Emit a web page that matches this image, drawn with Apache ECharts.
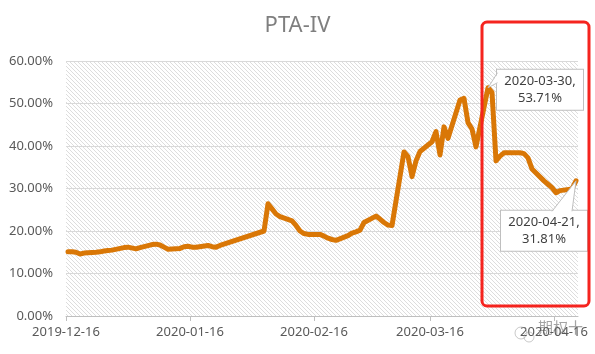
<!DOCTYPE html>
<html>
<head>
<meta charset="utf-8">
<script src="https://cdn.jsdelivr.net/npm/echarts@6/dist/echarts.min.js"></script>
<style>
html, body { margin: 0; padding: 0; background: #fff; }
#id-div-chart { width: 595px; height: 354px; }
</style>
</head>
<body>
<div id="id-div-chart"></div>
<script>
var log = console.log.bind(console)

var e = (selector) => document.querySelector(selector)

// 交易日
var dates = [
    '2019-12-16', '2019-12-17', '2019-12-18', '2019-12-19', '2019-12-20',
    '2019-12-23', '2019-12-24', '2019-12-25', '2019-12-26', '2019-12-27',
    '2019-12-30', '2019-12-31', '2020-01-02', '2020-01-03',
    '2020-01-06', '2020-01-07', '2020-01-08', '2020-01-09', '2020-01-10',
    '2020-01-13', '2020-01-14', '2020-01-15', '2020-01-16', '2020-01-17',
    '2020-01-20', '2020-01-21', '2020-01-22', '2020-01-23',
    '2020-02-03', '2020-02-04', '2020-02-05', '2020-02-06', '2020-02-07',
    '2020-02-10', '2020-02-11', '2020-02-12', '2020-02-13', '2020-02-14',
    '2020-02-17', '2020-02-18', '2020-02-19', '2020-02-20', '2020-02-21',
    '2020-02-24', '2020-02-25', '2020-02-26', '2020-02-27', '2020-02-28',
    '2020-03-02', '2020-03-03', '2020-03-04', '2020-03-05', '2020-03-06',
    '2020-03-09', '2020-03-10', '2020-03-11', '2020-03-12', '2020-03-13',
    '2020-03-16', '2020-03-17', '2020-03-18', '2020-03-19', '2020-03-20',
    '2020-03-23', '2020-03-24', '2020-03-25', '2020-03-26', '2020-03-27',
    '2020-03-30', '2020-03-31', '2020-04-01', '2020-04-02', '2020-04-03',
    '2020-04-07', '2020-04-08', '2020-04-09', '2020-04-10',
    '2020-04-13', '2020-04-14', '2020-04-15', '2020-04-16', '2020-04-17',
    '2020-04-20', '2020-04-21',
]

// IV，单位 %
var values = [
    15.1, 15.1, 15.0, 14.6, 14.8,
    15.0, 15.1, 15.3, 15.4, 15.5,
    16.1, 16.2, 15.8, 16.1,
    16.8, 16.9, 16.7, 16.2, 15.7,
    15.9, 16.3, 16.4, 16.2, 16.2,
    16.6, 16.3, 16.2, 16.6,
    20.0, 26.4, 25.2, 24.0, 23.4,
    22.4, 21.3, 20.0, 19.4, 19.2,
    19.2, 18.8, 18.3, 18.0, 17.8,
    18.9, 19.5, 19.8, 20.2, 22.0,
    23.5, 22.8, 22.0, 21.4, 21.3,
    38.6, 37.5, 32.8, 36.5, 38.7,
    41.0, 43.4, 37.9, 44.5, 41.8,
    50.8, 51.2, 45.5, 44.0, 39.8,
    53.71, 52.6, 36.5, 37.6, 38.4,
    38.4, 38.2, 37.2, 34.6,
    31.8, 31.0, 30.2, 29.0, 29.5,
    29.9, 31.81,
]

var xTickDates = ['2019-12-16', '2020-01-16', '2020-02-16', '2020-03-16', '2020-04-16']
var xStart = '2019-12-16'
var xEnd = '2020-04-22'

var yTicks = [0, 10, 20, 30, 40, 50, 60]

var calloutDates = ['2020-03-30', '2020-04-21']
// 标注框相对数据点的偏移
var calloutOffsets = [[52, 2], [-32, 50]]

var toTime = function(s, hour) {
    var p = s.split('-')
    return new Date(+p[0], +p[1] - 1, +p[2], hour || 0).getTime()
}

var pad = (n) => (n < 10 ? '0' : '') + n

var formatDate = function(t) {
    var d = new Date(t)
    return d.getFullYear() + '-' + pad(d.getMonth() + 1) + '-' + pad(d.getDate())
}

var hatchPattern = function() {
    var c = document.createElement('canvas')
    c.width = 4
    c.height = 4
    var ctx = c.getContext('2d')
    ctx.fillStyle = '#ffffff'
    ctx.fillRect(0, 0, 4, 4)
    ctx.strokeStyle = '#dddddd'
    ctx.lineWidth = 1
    ctx.beginPath()
    ctx.moveTo(-1, -1)
    ctx.lineTo(5, 5)
    ctx.moveTo(-1, 3)
    ctx.lineTo(1, 5)
    ctx.moveTo(3, -1)
    ctx.lineTo(5, 1)
    ctx.stroke()
    return {image: c, repeat: 'repeat'}
}

var seriesData = function() {
    var data = []
    for (var i = 0; i < dates.length; i++) {
        var d = dates[i]
        var item = {value: [toTime(d, 12), values[i]]}
        var k = calloutDates.indexOf(d)
        if (k >= 0) {
            item.label = {
                show: true,
                position: 'inside',
                offset: calloutOffsets[k],
                formatter: d + ',\n' + values[i].toFixed(2) + '%',
            }
        }
        data.push(item)
    }
    return data
}

var font = '"Noto Sans", "Noto Sans CJK SC", sans-serif'

var tickTimes = xTickDates.map((d) => toTime(d))

var option = {
    animation: false,
    title: {
        text: 'PTA-IV',
        left: 'center',
        top: 10,
        textStyle: {
            fontFamily: font,
            fontSize: 22,
            fontWeight: 'normal',
            color: '#7f7f7f',
        },
    },
    grid: {
        left: 66,
        right: 17,
        top: 61,
        bottom: 38,
        show: true,
        borderWidth: 0,
        backgroundColor: hatchPattern(),
    },
    xAxis: {
        type: 'value',
        min: toTime(xStart),
        max: toTime(xEnd),
        axisLine: {lineStyle: {color: '#bfbfbf', width: 1}},
        axisTick: {
            show: true,
            length: 5,
            lineStyle: {color: '#bfbfbf'},
            customValues: tickTimes,
        },
        axisLabel: {
            customValues: tickTimes,
            formatter: formatDate,
            fontFamily: font,
            fontSize: 13,
            color: '#595959',
            margin: 10,
        },
        splitLine: {show: false},
    },
    yAxis: {
        type: 'value',
        min: yTicks[0],
        max: yTicks[yTicks.length - 1],
        interval: 10,
        axisLine: {show: false},
        axisTick: {show: false},
        axisLabel: {
            formatter: (v) => v.toFixed(2) + '%',
            fontFamily: font,
            fontSize: 13,
            color: '#595959',
            margin: 13,
        },
        splitLine: {lineStyle: {color: '#d9d9d9', width: 1}},
    },
    series: [
        {
            type: 'line',
            data: seriesData(),
            symbol: 'circle',
            symbolSize: 0,
            showSymbol: true,
            showAllSymbol: true,
            lineStyle: {color: '#d97706', width: 5, join: 'round', cap: 'round'},
            itemStyle: {color: '#d97706'},
            label: {
                show: false,
                fontFamily: font,
                fontSize: 13,
                lineHeight: 17,
                color: '#404040',
                align: 'center',
                width: 74,
                backgroundColor: '#ffffff',
                borderColor: '#bfbfbf',
                borderWidth: 1,
                padding: [3, 6],
            },
        },
    ],
}

var calloutGraphics = function(chart) {
    var els = []
    var w = 86
    var h = 40
    for (var k = 0; k < calloutDates.length; k++) {
        var i = dates.indexOf(calloutDates[k])
        var p = chart.convertToPixel({seriesIndex: 0}, [toTime(dates[i], 12), values[i]])
        var cx = p[0] + calloutOffsets[k][0]
        var cy = p[1] + calloutOffsets[k][1]
        var left = cx - w / 2
        var top = cy - h / 2
        var a, b, fa, fb
        if (k == 0) {
            a = [left + 0.5, top + 3]
            b = [left + 0.5, top + 13]
            fa = [left + 1.5, top + 3]
            fb = [left + 1.5, top + 13]
        } else {
            a = [left + 51, top + 0.5]
            b = [left + 71, top + 0.5]
            fa = [left + 51, top + 1.5]
            fb = [left + 71, top + 1.5]
        }
        els.push({
            type: 'polygon',
            z: 100,
            shape: {points: [fa, p, fb]},
            style: {fill: '#ffffff', stroke: null},
        })
        els.push({
            type: 'polyline',
            z: 101,
            shape: {points: [a, p, b]},
            style: {fill: null, stroke: '#bfbfbf', lineWidth: 1},
        })
    }
    return els
}

var __main = function() {
    var chart = echarts.init(e('#id-div-chart'), null, {renderer: 'canvas'})
    chart.setOption(option)
    var els = calloutGraphics(chart)
    // 红框
    els.push({
        type: 'rect',
        z: 110,
        shape: {x: 482, y: 22, width: 107, height: 284, r: 5},
        style: {fill: null, stroke: '#f5241f', lineWidth: 3},
    })
    // 水印
    els.push({
        type: 'text',
        z: 110,
        x: 538,
        y: 320,
        style: {
            text: '期权十',
            font: '15px "Noto Sans CJK SC"',
            fill: 'rgba(90, 90, 90, 0.55)',
        },
    })
    els.push({
        type: 'circle',
        z: 110,
        shape: {cx: 521, cy: 333, r: 6},
        style: {fill: null, stroke: 'rgba(150, 150, 150, 0.5)', lineWidth: 1},
    })
    els.push({
        type: 'circle',
        z: 110,
        shape: {cx: 529, cy: 337, r: 5},
        style: {fill: null, stroke: 'rgba(150, 150, 150, 0.5)', lineWidth: 1},
    })
    chart.setOption({graphic: {elements: els}})
}

__main()
</script>
</body>
</html>
